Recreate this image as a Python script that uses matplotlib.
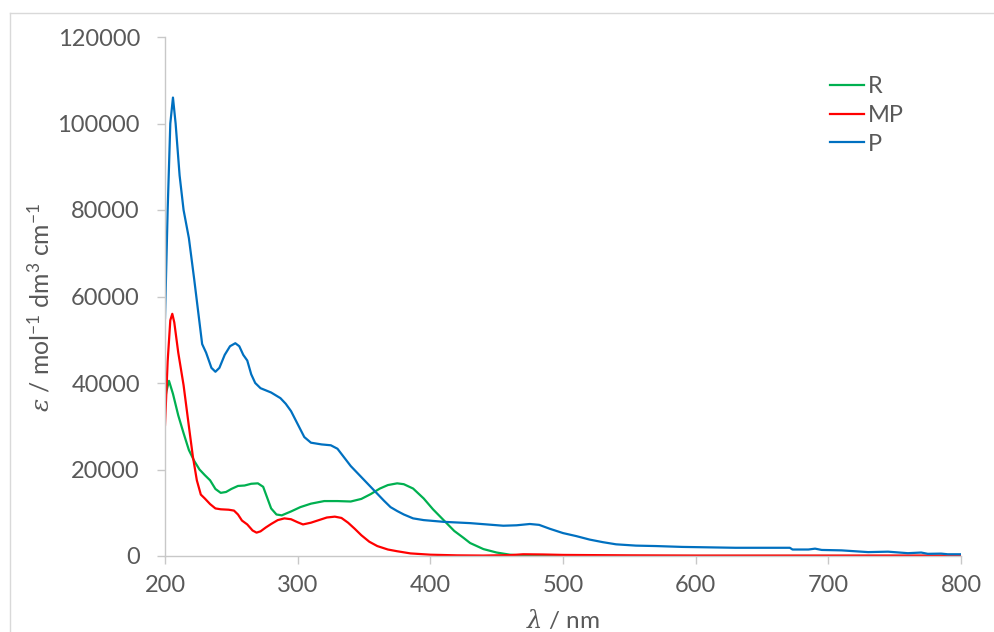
import matplotlib
matplotlib.use("Agg")
import matplotlib.pyplot as plt
from matplotlib.lines import Line2D

plt.rcParams['font.family'] = ['Lato', 'DejaVu Sans']
plt.rcParams['mathtext.fontset'] = 'custom'
plt.rcParams['mathtext.rm'] = 'Lato'
plt.rcParams['mathtext.it'] = 'DejaVu Serif:italic'

# ---- data ----
p_x = [200, 202, 204, 206, 208, 211, 214, 218, 222, 226, 228, 231, 235, 238, 241, 245, 249, 253, 256, 259,
       262, 265, 268, 272, 280, 287, 291, 295, 300, 305, 310, 318, 325, 330, 335, 340, 345, 350, 355, 360,
       365, 370, 375, 380, 387, 395, 410, 430, 455, 465, 475, 482, 490, 500, 510, 520, 530, 540, 555, 570,
       590, 610, 630, 650, 671, 673, 685, 690, 695, 710, 730, 745, 760, 770, 775, 785, 790, 800]
p_y = [55000, 80000, 100000, 106000, 100000, 88000, 80000, 73500, 64000, 54000, 49000, 47000, 43500, 42600,
       43500, 46500, 48500, 49200, 48500, 46500, 45200, 42000, 40000, 38800, 37800, 36500, 35200, 33500,
       30500, 27500, 26200, 25800, 25600, 24800, 22800, 20800, 19200, 17600, 16000, 14400, 12800, 11300,
       10400, 9600, 8700, 8300, 7900, 7600, 7000, 7100, 7400, 7200, 6300, 5300, 4600, 3800, 3200, 2700,
       2400, 2300, 2100, 2000, 1900, 1900, 1900, 1500, 1500, 1700, 1400, 1300, 900, 1000, 650, 800, 500,
       550, 400, 400]

r_x = [200, 201, 203, 206, 210, 214, 218, 222, 226, 230, 234, 238, 242, 246, 250, 255, 260, 265, 270, 274,
       277, 280, 284, 288, 295, 302, 310, 320, 330, 340, 348, 355, 362, 368, 375, 380, 387, 395, 402, 410,
       418, 425, 430, 440, 450, 460, 470, 480, 800]
r_y = [36000, 38000, 40500, 37500, 32500, 28400, 24500, 22000, 20000, 18700, 17500, 15500, 14600, 14800,
       15500, 16200, 16300, 16700, 16800, 16000, 13500, 11000, 9600, 9400, 10300, 11300, 12100, 12700,
       12700, 12600, 13200, 14300, 15600, 16400, 16800, 16600, 15600, 13300, 10800, 8300, 5800, 4200,
       3000, 1600, 800, 300, 100, 0, 0]

mp_x = [200, 202, 204, 205.5, 207, 210, 214, 218, 221, 224, 227, 230, 234, 238, 242, 248, 252, 255, 258,
        262, 266, 269, 272, 276, 280, 285, 290, 295, 300, 304, 310, 316, 322, 328, 333, 338, 343, 348, 354,
        360, 368, 375, 385, 400, 420, 440, 460, 470, 485, 500, 550, 600, 700, 800]
mp_y = [30300, 45000, 54500, 56000, 54000, 47000, 39500, 30000, 23000, 17500, 14200, 13300, 12000, 11000,
        10800, 10700, 10500, 9600, 8200, 7300, 5900, 5400, 5700, 6600, 7400, 8300, 8700, 8500, 7800, 7300,
        7700, 8300, 8900, 9100, 8800, 7700, 6300, 4800, 3300, 2300, 1500, 1100, 600, 300, 150, 100, 200,
        400, 350, 250, 150, 100, 100, 100]

x_ticks = [200, 300, 400, 500, 600, 700, 800]
y_ticks = [0, 20000, 40000, 60000, 80000, 100000, 120000]
series_names = ['R', 'MP', 'P']

# ---- figure ----
W, H = 995, 632
fig = plt.figure(figsize=(W / 100, H / 100), dpi=100)
ax = fig.add_axes([165 / W, 1 - 556 / H, (961 - 165) / W, (556 - 37) / H])

ax.plot(r_x, r_y, color='#00B050', lw=1.6, label=series_names[0])
ax.plot(mp_x, mp_y, color='#FF0000', lw=1.6, label=series_names[1])
ax.plot(p_x, p_y, color='#0070C0', lw=1.6, label=series_names[2])

ax.set_xlim(200, 800)
ax.set_ylim(0, 120000)
ax.set_xticks(x_ticks)
ax.set_yticks(y_ticks)
ax.set_xticklabels([str(v) for v in x_ticks])
ax.set_yticklabels([str(v) for v in y_ticks])

spine_c = '#C8C8C8'
for s in ['top', 'right']:
    ax.spines[s].set_visible(False)
for s in ['left', 'bottom']:
    ax.spines[s].set_color(spine_c)
    ax.spines[s].set_linewidth(1.0)
ax.tick_params(axis='both', colors=spine_c, length=6, width=1.0, direction='out',
               labelsize=17, labelcolor='#595959')
ax.tick_params(axis='y', pad=12)
ax.tick_params(axis='x', pad=8)

fig.text(40 / W, 1 - 307 / H,
         r'$\varepsilon$ / mol$^{-1}$ dm$^{3}$ cm$^{-1}$',
         rotation=90, ha='center', va='center', fontsize=17.8, color='#595959')
fig.text(563 / W, 1 - 620 / H, r'$\lambda$ / nm', ha='center', va='center',
         fontsize=17.5, color='#595959')

leg = ax.legend(loc='upper left', bbox_to_anchor=(830 / W, 1 - 76 / H),
                bbox_transform=fig.transFigure, frameon=False, fontsize=17,
                handlelength=1.45, handletextpad=0.15, labelspacing=0.33,
                borderaxespad=0, borderpad=0)
for t in leg.get_texts():
    t.set_color('#595959')

# chart border
fig.add_artist(Line2D([9.5 / W, 9.5 / W], [0, 1 - 13 / H], transform=fig.transFigure,
                      color='#D9D9D9', lw=1.0))
fig.add_artist(Line2D([9.5 / W, 1], [1 - 13 / H, 1 - 13 / H], transform=fig.transFigure,
                      color='#D9D9D9', lw=1.0))

fig.savefig('out.png', dpi=100, facecolor='white')
